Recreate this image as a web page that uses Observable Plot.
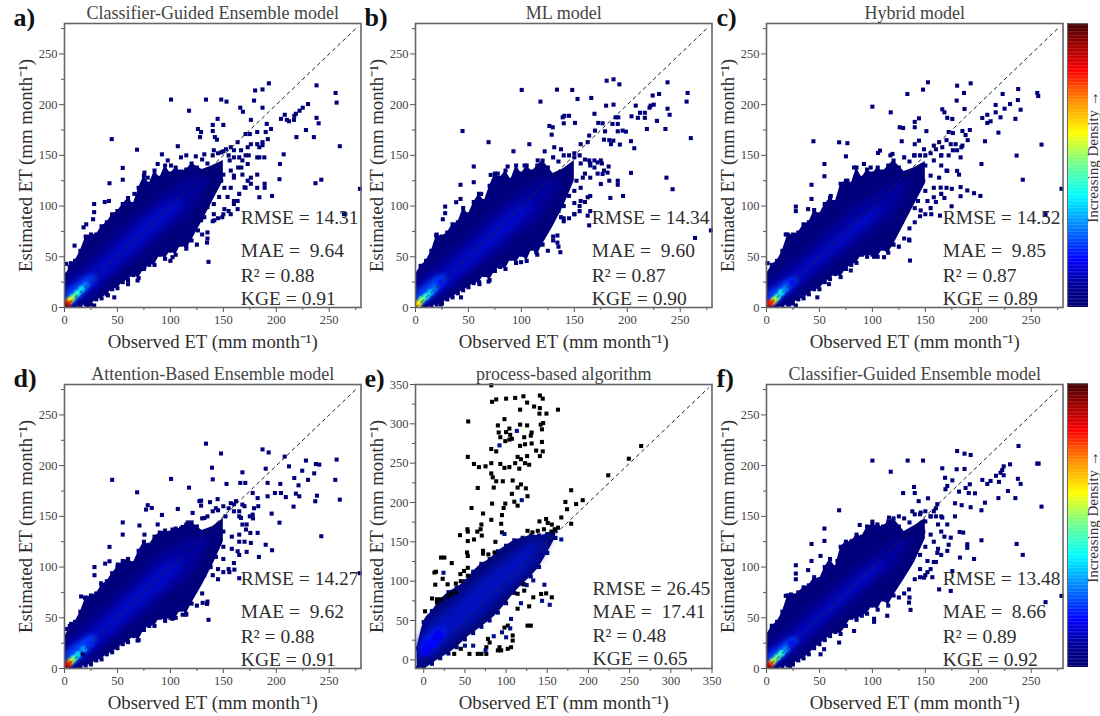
<!DOCTYPE html>
<html><head><meta charset="utf-8">
<script src="https://cdn.jsdelivr.net/npm/d3@7"></script>
<script src="https://cdn.jsdelivr.net/npm/@observablehq/plot@0.6"></script>
<style>
html,body{margin:0;padding:0;background:#fff}
#page{position:relative;width:1100px;height:716px;overflow:hidden}
#page svg{position:absolute}
</style></head><body><div id="page"></div>
<script>
// ---------- text ----------
const panelLetters = ["a)","b)","c)","d)","e)","f)"];
const panelTitles = ["Classifier-Guided Ensemble model","ML model","Hybrid model","Attention-Based Ensemble model","process-based algorithm","Classifier-Guided Ensemble model"];
const xAxisLabel = "Observed ET (mm month⁻¹)";
const yAxisLabel = "Estimated ET (mm month⁻¹)";
const colorbarLabel = "Increasing Density →";
const statsA = ["RMSE = 14.31","MAE =  9.64","R² = 0.88","KGE = 0.91"];
const statsB = ["RMSE = 14.34","MAE =  9.60","R² = 0.87","KGE = 0.90"];
const statsC = ["RMSE = 14.52","MAE =  9.85","R² = 0.87","KGE = 0.89"];
const statsD = ["RMSE = 14.27","MAE =  9.62","R² = 0.88","KGE = 0.91"];
const statsE = ["RMSE = 26.45","MAE =  17.41","R² = 0.48","KGE = 0.65"];
const statsF = ["RMSE = 13.48","MAE =  8.66","R² = 0.89","KGE = 0.92"];

// ---------- ticks ----------
const ticksMajor = [0,50,100,150,200,250];
const ticksMinor = [25,75,125,175,225,275];
const ticksMajorE = [0,50,100,150,200,250,300,350];
const ticksMinorE = [25,75,125,175,225,275,325];

// ---------- density colour scale ----------
const densityStops = [0,.08,.165,.28,.39,.5,.61,.72,.83,.92,1];
const densityColors = ["#00006e","#00009e","#0000ff","#0080ff","#00ffff","#70ff90","#ffff00","#ff9000","#ff0000","#a00000","#3a0000"];

// ---------- tail of each cloud, where it thins out ----------
const tailX = [130,140,150];
const tailHiA = [136,140,145], tailLoA = [85,105,125];
const tailHiB = [132,137,145], tailLoB = [80,100,125];
const tailHiC = [134,138,144], tailLoC = [82,102,122];
const tailHiD = [136,140,148], tailLoD = [82,102,125];
const tailHiF = [135,141,148], tailLoF = [88,105,128];
const edgeXE = [-8,0,10,20,30,40,50,60,70,80,90,100,110,120,130,140,150,160];
const edgeHiE = [15,48,62,76,86,92,100,112,122,128,138,145,152,155,158,158,160,164];
const edgeLoE = [-10,-11,-5,2,8,16,26,34,42,50,60,72,85,96,106,118,136,155];

// ---------- outermost visible dots of each cloud ----------
const edgeX = [0,5,10,15,20,25,30,35,40,45,50,55,60,65,70,75,80,85,90,95,100,105,110,115,120,125,130,135,140,145,150,155,160,165];
const edgeHiA = [30,40,46,56,70,72,72,80,84,92,95,102,108,102,118,130,122,135,128,140,132,138,134,136,142,138,146,142,150,152,154,150,155,148];
const edgeLoA = [0,0,0,1,3,3,8,9,13,18,19,25,27,32,29,38,42,42,52,48,56,52,62,58,66,62,72,68,85,88,92,95,105,112];
const edgeHiB = [33,41,46,56,72,70,74,82,84,98,92,104,112,105,120,132,128,135,126,140,132,140,134,140,145,138,148,144,150,150,152,150,146,142];
const edgeLoB = [0,0,0,1,3,4,8,10,14,17,20,24,25,32,27,36,40,38,48,44,52,46,58,52,62,56,66,60,88,88,92,95,104,110];
const edgeHiC = [33,42,46,56,72,72,74,82,84,96,92,102,108,104,122,125,122,138,128,136,132,138,134,140,145,138,148,144,150,150,150,152,156,150];
const edgeLoC = [0,0,0,1,3,4,8,9,13,18,18,25,28,33,30,38,42,44,52,50,52,50,58,54,62,60,68,66,84,90,92,98,104,112];
const edgeHiD = [30,42,46,56,70,72,74,82,86,94,100,106,108,104,116,125,122,130,134,136,134,138,138,142,144,140,148,150,155,156,160,158,162,155];
const edgeLoD = [0,0,0,1,3,4,8,9,14,16,20,24,26,32,28,38,42,42,50,47,50,50,58,54,64,62,74,66,92,88,95,98,104,112];
const edgeHiF = [33,42,46,56,72,72,75,80,82,90,88,100,108,100,120,125,125,132,130,140,142,140,140,145,148,140,148,144,152,152,155,150,158,150];
const edgeLoF = [0,0,0,1,3,4,8,10,14,20,24,28,32,36,34,42,50,48,52,54,62,58,68,62,72,70,74,70,88,90,92,98,105,112];

// ---------- inner density bands ----------
const band1X = [2,20,40,60,80,100,120,135];
const band1LoA = [0,8,24,42,60,78,95,125], band1HiA = [28,42,62,82,100,115,128,130];
const band1LoB = [0,8,24,40,56,74,92,120], band1HiB = [28,42,60,80,98,113,125,128];
const band1LoC = [0,9,25,42,58,76,94,120], band1HiC = [26,40,58,78,96,110,122,126];
const band1LoD = [0,8,24,41,58,76,94,122], band1HiD = [28,42,62,82,102,118,128,132];
const band1LoF = [0,10,27,46,64,82,100,125], band1HiF = [26,38,58,76,94,110,124,128];
const band2X = [2,20,40,60,80,100,112];
const band2LoA = [1,13,31,50,68,86,102], band2HiA = [20,32,50,70,90,104,108];
const band2LoB = [1,13,30,47,65,84,100], band2HiB = [20,31,48,67,87,102,106];
const band2LoC = [1,14,33,50,68,85,100], band2HiC = [18,29,46,64,82,96,102];
const band2LoD = [1,13,31,49,67,85,102], band2HiD = [20,32,50,70,90,106,110];
const band2LoF = [1,15,34,53,72,90,104], band2HiF = [18,29,46,64,84,100,108];
const band3X = [1,10,20,30];
const band3LoA = [0,5,15,27], band3HiA = [16,22,30,32];
const band3LoB = [0,5,15,27], band3HiB = [16,22,30,32];
const band3LoC = [0,5,15,26], band3HiC = [14,20,27,30];
const band3LoD = [0,5,15,27], band3HiD = [16,23,30,33];
const band3LoF = [0,6,16,27], band3HiF = [14,20,28,31];
const band1XE = [-6,5,20,40,60,80,100,120,140,152];
const band1LoE = [-3,0,10,28,45,62,85,104,126,146], band1HiE = [18,46,60,78,98,116,132,146,154,156];
const band2XE = [-6,5,20,40,60,80,100,120,135];
const band2LoE = [2,5,18,35,52,72,92,112,132], band2HiE = [16,38,52,70,88,106,122,138,150];
const band3XE = [-3,5,15,28];
const band3LoE = [8,8,16,28], band3HiE = [20,32,38,42];

// ---------- hot cores near the origin: x, y, density level ----------
const coreA = [[24,25,.2],[20,22,.27],[16,18,.36],[12,14,.42],[8,10,.5],[5,7,.62],[3,4,.78],[1.5,2,.9]];
const coreB = [[24,25,.18],[18,19,.26],[14,15,.34],[10,11,.42],[6,8,.5],[3,4,.6],[1.5,2,.64]];
const coreC = [[24,25,.18],[18,19,.27],[14,15,.38],[10,10,.46],[7,7,.56],[5,5,.72],[2.5,4,.82]];
const coreD = [[24,25,.2],[18,19,.3],[13,14,.36],[9,10,.46],[6,7,.58],[4,5,.76],[2,3,.86]];
const coreF = [[24,25,.18],[18,19,.28],[14,15,.42],[10,11,.48],[6,7,.56],[3.5,4,.76],[1.5,2,.9]];
const coreE = [[12,22,.17],[6,18,.17],[4,12,.15],[18,30,.15]];

// ---------- individually visible points ----------
const pointsA = [[193,221],[238,219],[180,214],[187,215],[100.6,205],[133.6,205],[148,205],[153,203],[179,204],[256,211.5],[257,202],[166,197],[168.5,193],[187,197],[117.6,194],[144.6,186],[176,185],[150,180],[140,180],[140,174],[126,176],[129,173],[128,168],[142,168],[144,165.5],[44.6,166],[68.5,155.6],[107,159],[92,151],[260,159],[207,151],[203.5,141.5],[203,126.5],[237,122.5],[242.5,126],[279,117],[196,110],[184,108.7],[264,92],[42.5,122.5],[55,137.6],[55,126],[136,45],[228,175],[235.5,168],[219,168],[238,187],[240,181.6],[230,200.6],[225,197],[222,194],[218.5,191],[217,189],[208,190],[204.4,186],[210,185],[212,183.6],[216.7,185],[191,181],[190,173],[182,173],[175,171],[171,171],[187,163],[176,161],[182,161],[187,160],[195,176],[192,166],[182,148],[189,122],[189,118],[182,131],[182,118],[176,122],[171,118],[28,102],[28,94],[42,105],[38,104],[27,87],[18,79],[20.5,82],[9.5,61],[1.6,43],[6,43.7],[2,32.5],[66,112],[75.5,133],[78.6,128],[88,141.5],[97.5,145],[100.6,140],[110,148],[115,150],[124,149],[132,151],[141,155],[148,153],[157,158],[163.5,163],[152.5,156],[166.7,155],[171,150],[173,141.5],[176,128],[170,118.5],[163.5,105],[163.5,97],[157,92],[149,89],[141.5,86],[135,74],[134.6,64],[126,76],[115,61],[102,49.6],[100,46],[75.5,40],[69,26.6],[60,23],[47,10],[41,12],[28,2],[22,2],[35,17],[160,130],[148,125],[173,158],[184,158],[184,148],[188.7,148],[146,138],[156,145],[160,148],[150,131],[157,135],[164,138],[141,125],[151,118],[157,118],[160,128],[167,138],[146,109],[154,109],[160,102],[141,102],[151,97],[135,99],[141,92],[132,89],[129,86],[168,145],[174,150],[168,131],[173,125]];
const pointsB = [[187,225],[180.5,223.6],[192.5,220],[238,222],[100.3,214.5],[133.6,214.8],[148,214.5],[153,205.6],[118,203],[166,206.6],[257,211.5],[256,203],[187,200],[180,199],[224,209],[230,210.5],[208,199],[222,199],[225,200],[221,197],[238,196],[240,190],[236,176],[218.5,176],[228,184],[212,192],[216.6,192],[204,188.5],[210,187],[216.6,187],[169,191],[189,187.5],[191.5,187.5],[140.6,189],[145,189],[139,187.5],[150.6,182],[140,181.6],[126.4,179],[129.6,177.7],[128.6,170.4],[44.4,174],[69,163],[107.5,161],[92.5,154],[122,154],[260,167],[206.6,157],[203.5,164],[203.5,132.7],[237,128],[242.8,116.6],[196,110],[184,108],[264,68.6],[279,76],[42.5,121],[55,139],[55,123.5],[136.8,54.5],[134,64],[134,71],[130,70],[164,81],[162.6,90.6],[165,95],[28,99.5],[28,93],[25.8,87],[5,41],[1.6,33],[19.5,71],[22.6,68.6],[38.4,103.8],[42.5,107],[62,112],[71,130.7],[77.7,132],[87,139],[103,140],[109,132.7],[115.4,145],[131,158],[137.4,156],[156,161],[162.6,163],[164,169.5],[169.5,174.4],[172.6,182],[176.7,181.6],[179,173.7],[186,181],[191,181],[191,173.7],[195.6,174.4],[198.7,173.4],[183,165],[178,165.5],[186.8,164.5],[184.6,161],[193,160.6],[175,145],[169,145],[169,138],[182.4,139],[181.4,133],[183,125],[191,125],[191,121],[176.7,131.7],[175,121.8],[162.6,108.7],[156,105],[150,92],[137.4,89],[103,53],[99.7,44.7],[114,54.5],[69,25.6],[60.4,23],[43,10],[24,3],[150,148],[156,142],[164,145],[172,143],[176,142],[178,135],[146,132],[152,125],[158,128],[165,128],[150,115],[156,118],[145,110],[150,103],[140,100],[135,95],[128,90],[155,100],[140,85],[172,132],[165,140],[160,132],[143,122]];
const pointsC = [[152.5,222],[192.8,221],[180,218.7],[237.7,215.4],[147.8,214.8],[133,210.5],[186.5,211.5],[255.7,211.5],[256.6,208.5],[100,198],[179.6,204],[237.4,204.5],[223,210.5],[117.3,192.4],[187,195.7],[240,195],[216.4,199.7],[230,200.6],[224.8,196],[166,195.4],[168,192.4],[216.4,192.4],[203.8,186.9],[208.5,190],[221,187.5],[235,186],[219,172.4],[208.5,182],[211.6,183.6],[170.7,187],[175.5,185.9],[144,186.5],[140,183],[140,177.7],[125.8,177.7],[129,177],[151,173.9],[44.3,163.9],[68.6,162.9],[76.4,162],[75,149],[127.7,163.9],[144,164.5],[140,161],[105.3,152.4],[107.2,154.7],[119,151.4],[259.7,160.6],[236.2,149.8],[206.3,163.9],[203,141.5],[242,126],[278.6,117],[263.5,92],[202,110],[196,112.7],[189.6,115.4],[183.3,118.7],[183.3,109.7],[174.8,99.8],[163.8,90.6],[155.6,92],[135.5,46.3],[134.6,67],[111,49.6],[101.6,50],[114,56.8],[42.5,121],[54.7,129.4],[54.7,141.5],[27.7,99.5],[27.7,95],[39.3,97],[42.5,107],[18.2,72],[1,43.7],[8.8,43],[1.6,32.5],[60.7,110],[76.4,125],[82.7,138],[92,141.5],[98.4,138],[117,150],[139.3,150],[148.7,156],[158,159.6],[163,163],[174,161],[178.6,161],[185,159.6],[183.3,148],[180,134.7],[181.8,131],[170.7,134.7],[164.5,118.2],[158,108.7],[145.6,95.7],[79.6,36.5],[59,23],[48,10],[27.7,2],[21.4,3],[192,175],[188,170],[185,174],[176,172],[172,173],[170,165],[166,158],[190,165],[184,158],[150,140],[158,145],[165,150],[172,150],[170,135],[163,128],[155,130],[148,125],[150,115],[158,118],[170,118],[175,117],[168,108],[152,105],[143,105],[140,98],[132,95],[128,85],[135,78],[176,155],[180,155],[165,140]];
const pointsD = [[133.6,221.7],[147.8,212],[187,216],[192.8,213],[207.9,208.9],[257,206],[228,205],[212,199.3],[190,197],[168,193.4],[224.5,195],[139.3,198],[237.4,201.6],[240.6,201],[235.8,192.4],[217,187.8],[230,186],[255.7,186],[221,180.6],[203.8,182],[45,186],[100.6,186.9],[140,186.5],[153,182],[117.6,178.3],[166,183],[170.7,183],[191.8,183],[68.6,173.7],[198.7,173],[204.4,173],[209,169],[218.5,172.4],[221.7,169.8],[238.4,170.4],[236.8,164.9],[260,166.5],[216.3,159.6],[78.6,161],[77,156.7],[82.4,158.3],[92,151.4],[107,157.3],[121,153.4],[127.4,165],[129,160.6],[129,165.5],[137.4,164],[144.6,167],[195.6,152.7],[203,143.8],[242.5,130.4],[190,122],[196,116.6],[183.6,110],[279,94],[42.5,119.9],[55,144],[55,132],[28.3,100],[28.3,92],[38.4,103.4],[42.5,105.7],[1.6,39],[6.3,44],[2,32],[136,48],[134.6,63.7],[130.5,64.7],[102,49],[111.6,53],[114.8,53],[160.4,97.5],[155.7,95],[165,89],[69,27.6],[17.3,13.8],[15.7,71],[19.5,69.6],[34.6,84],[50.3,102.5],[58,104],[70.8,141],[75.5,132],[88,142],[102,137],[111.6,139.6],[116.4,144],[132,148.4],[143,158],[157,163],[162,165],[168,161.6],[177.7,173],[182.4,168],[191.8,169.8],[179,158],[177.7,151.7],[166.7,148.4],[175.5,133.7],[182.4,133.7],[176,123.8],[163.5,115.6],[168,141.9],[171.4,137],[152,150],[160,155],[165,150],[170,160],[175,150],[150,135],[158,130],[165,132],[172,142],[150,120],[158,118],[165,125],[150,108],[143,110],[138,100],[145,98],[132,92],[125,85],[170,125],[172,115],[178,148],[183,160]];
const pointsF = [[238,219.4],[180,214.4],[187,211.8],[192.8,210.5],[100,205],[133.3,205],[147.8,205],[255.7,202],[257,202],[166,197.4],[179.6,196.4],[187,196.7],[117.3,194],[230,201.3],[224,199.3],[222.6,195.7],[221,193],[224,190.5],[216.7,190],[237.4,187],[240,182],[203.8,185.9],[211.6,184.9],[208.5,182],[219.5,184],[228,175],[235,168],[219,168],[139.3,179],[140,173],[129,173],[143.7,165],[152.5,167.8],[168.6,188],[175.5,185.5],[170.7,180],[169,176.7],[192,181.6],[191,173],[196.9,172.7],[181.8,174.4],[188,178],[68.6,156],[259.7,159.6],[206.3,163.5],[203,156],[192.8,159],[184.3,161],[178,162.9],[203,126.4],[236.2,122.8],[242,112],[189.6,122.5],[189.6,119],[182.7,109.4],[196,108],[175.5,96],[263.5,65.4],[278.6,71.6],[136,57.8],[134.6,65],[101.6,49],[101.6,46],[114,52],[42.5,122.8],[54.7,125.8],[54.7,138],[27.7,101.8],[27.7,93.6],[39.3,97],[42.5,106],[5.7,42],[22.3,2.6],[18.2,71.6],[23,73],[27.7,88],[51,111],[67,106],[75,124],[81,125.8],[88,141.5],[100,144.8],[104.7,142],[115.7,148.8],[125,150],[137.7,155],[145.6,153.7],[161.3,162],[158,155],[166,148.8],[170.7,142],[182.4,134.6],[185.8,134],[174,129],[170.7,116],[161.3,114],[152,106],[148.7,89.6],[156.6,90],[163,78],[174,76.5],[134.6,78],[82.7,37],[68.6,25.6],[54.4,19],[51,14],[150,145],[155,150],[160,150],[162,142],[165,135],[155,132],[148,135],[150,120],[158,125],[140,120],[145,112],[158,105],[135,105],[130,100],[125,92],[120,85],[168,130],[172,122],[178,150],[162,118],[145,98],[152,95]];
const pointsEBlack = [[82,349],[83,328],[88,331],[100,332],[111,333],[121,335],[125.5,327],[134,322],[141,336],[144.5,332],[141,320],[163,318],[149,313],[140.5,313],[117,318],[54,303],[98,306],[90,298],[117,299],[125.5,298],[145,301],[142,299],[143.5,293],[104,294],[100,289.5],[91,289],[93,283],[105,286],[107,281],[122,283],[131,289],[130,285],[99,278],[104,280],[131,275],[117,272],[123,274],[82,268],[88,265],[136.5,266],[144.5,265],[143.5,277],[141,259],[53.5,258],[61,249],[67,245],[75,246],[82,250],[93,249],[98,244],[104,245],[111,250],[116,243],[123,250],[128,248],[125.5,259],[114,258],[118,255],[82,237],[83.8,232],[88,227],[96,227],[85,219],[65.6,218.5],[108,228],[118,223],[114,219],[124,218],[126,208],[107,211],[110,201],[114,196],[99,198.6],[97,193],[83,198.6],[58,193],[72,186],[82,178],[95,184],[94,173],[70,172],[69,166],[53,166],[53.5,163],[44,158.5],[65,163],[70.5,158],[53.5,151],[61,153],[95,162],[87,150],[25,130],[21,130],[34,123],[15,112],[13,111],[23,103],[14,95.5],[29,96],[39,97],[45,100],[53.5,117],[49,113],[53.5,107],[44.5,109],[52.6,136.5],[53.5,132],[72,138.6],[72,135],[78.5,134],[86,136.5],[10,78],[16,77],[21,77],[16,73],[29,80.7],[33,84],[39,86],[1.6,61.7],[179,215.6],[172,200.7],[193,203],[185,198],[174,191.5],[179,173],[167,181],[224,234.6],[249,255.7],[264,271.8],[155.5,172],[148.6,179],[150.6,174],[140.5,176],[163,168],[159,166],[155,163],[146,166],[138.5,164],[126,164],[132,162],[155.5,79.5],[142.5,83.7],[148.6,84.5],[133,79.5],[128,68],[130,43.5],[126,43.5],[108,31],[108,24.5],[106,16],[102,14],[92,16],[94,12],[90,12],[78,26.6],[80,22],[76,16],[70,7.6],[76,7.6],[65.6,7.6],[55.5,7.6],[45,14],[37,7.6],[98,41],[102,43.5],[114,65],[122,88],[122,96],[114,84]];
const pointsEBlue = [[113,291],[92,272.6],[119,203],[24,110.7],[98,160],[143.7,75],[146.5,95.5],[153,70],[133,101],[100,28.7],[106,52],[146.5,139],[167,153],[125,95],[118,72],[105,40],[95,35],[85,30],[60,18],[50,18],[75,12]];

// ---------- one panel ----------
const layerFill = ["#00007c","#00009c","#0008c4","#0040f0"];
const layerFillE = ["#00087c","#000c9c","#0010bc","#0020e8"];

const blur = px => (index, scales, values, dims, ctx, next) => {
  const g = next(index, scales, values, dims, ctx);
  g.style.filter = `blur(${px}px)`;
  return g;
};
const toBand = (x, lo, hi) => x.map((v, i) => ({x: v, lo: lo[i], hi: hi[i]}));
const pair = ([x, y, l]) => ({x, y, l});
const outline = b => b.flatMap(d => [{x:d.x, y:d.lo}, {x:d.x, y:d.hi}]);
const body = (edge, tail) => edge.filter(d => d.x <= 120).concat(tail);

function panel(o) {
  const isE = !!o.extended;
  const fills = isE ? layerFillE : layerFill;
  const bandMark = (b, fill, px, curve = "monotone-x") => Plot.areaY(b, {
    x: "x", y1: "lo", y2: "hi", fill, curve, clip: "frame",
    render: px ? blur(px) : undefined
  });
  const major = isE ? ticksMajorE : ticksMajor;
  const minor = isE ? ticksMinorE : ticksMinor;
  const tone = "#444";
  const stats = isE ? [91,61,31,1] : [88,55.5,31,9];
  const marks = [
    bandMark(o.solid, fills[0], 0.5, isE ? "monotone-x" : "linear"),
    Plot.dot(outline(o.edge), {x:"x", y:"y", symbol:"square", r:2.3, fill:fills[0], clip:"frame"}),
    bandMark(o.b1, fills[1], 3),
    bandMark(o.b2, fills[2], 3),
    bandMark(o.b3, fills[3], 2.5),
    Plot.dot(o.core.map(pair), {x:"x", y:"y", fill:"l", r:o.coreR || 3.4, clip:"frame", render: blur(1.1)}),
    Plot.dot(o.points.map(pair), {x:"x", y:"y", symbol:"square", r:2.3, fill:isE ? "#000" : "#00007c"})
  ];
  if (o.pointsBlue) marks.push(Plot.dot(o.pointsBlue.map(pair), {x:"x", y:"y", symbol:"square", r:2.3, fill:"#00108c"}));
  marks.push(
    Plot.link([0], {x1:0, y1:0, x2:isE ? 346 : 277, y2:isE ? 346 : 277, stroke:"#222", strokeWidth:1, strokeDasharray:"4,3"}),
    Plot.axisX({ticks:major, tickSize:5, tickPadding:3, label:null, fontSize:12.5, color:tone, stroke:"#555"}),
    Plot.axisX({ticks:minor, tickSize:3, tickFormat:()=>"", label:null, stroke:"#555"}),
    Plot.axisY({ticks:major, tickSize:5, tickPadding:2, label:null, fontSize:12.5, color:tone, stroke:"#555"}),
    Plot.axisY({ticks:minor, tickSize:3, tickFormat:()=>"", label:null, stroke:"#555"}),
    Plot.frame({stroke:"#666", strokeWidth:1.6}),
    Plot.text(o.stats, {x:o.statX, y:(d,i)=>stats[i], text:d=>d, textAnchor:"start", fontSize:19.5, fill:"#2e2e2e"}),
    Plot.text([o.title], {frameAnchor:"top", dy:-17, text:d=>d, fontSize:18, fill:"#444"}),
    Plot.text([o.letter], {frameAnchor:"top-left", dx:o.letterDx, dy:-16, text:d=>d, fontSize:26, fontWeight:"bold", fill:"#111"}),
    Plot.text([xAxisLabel], {frameAnchor:"bottom", dy:40, text:d=>d, fontSize:18.8, fill:"#2e2e2e"}),
    Plot.text([yAxisLabel], {frameAnchor:"left", textAnchor:"middle", dx:-39, rotate:-90, text:d=>d, fontSize:18.8, fill:"#2e2e2e"})
  );
  const svg = Plot.plot({
    width: 62 + o.w + 12, height: 26 + o.h + 49,
    marginLeft: 62, marginRight: 12, marginTop: 26, marginBottom: 49,
    style: {background:"none", fontFamily:"'Liberation Serif', serif", overflow:"visible"},
    x: {domain:o.xDom, axis:null},
    y: {domain:o.yDom, axis:null},
    color: {type:"linear", domain:densityStops, range:densityColors, clamp:true},
    marks
  });
  svg.style.left = (o.left - 62) + "px";
  svg.style.top = (o.top - 26) + "px";
  document.getElementById("page").appendChild(svg);
}

function colorbar(top) {
  const levels = d3.range(0, 1, 0.005);
  const svg = Plot.plot({
    width: 21, height: 284, margin: 0,
    style: {background:"none"},
    x: {domain:[0,1], axis:null},
    y: {domain:[0,1], axis:null},
    color: {type:"linear", domain:densityStops, range:densityColors},
    marks: [
      Plot.rect(levels, {x1:0, x2:1, y1:d=>d, y2:d=>d+0.006, fill:d=>d}),
      Plot.frame({stroke:"#666", strokeWidth:1})
    ]
  });
  svg.style.left = "1066.5px";
  svg.style.top = top + "px";
  document.getElementById("page").appendChild(svg);

  const label = Plot.plot({
    width: 24, height: 284, margin: 0,
    style: {background:"none", fontFamily:"'Liberation Serif', serif", overflow:"visible"},
    x:{axis:null}, y:{axis:null},
    marks: [Plot.text([colorbarLabel], {frameAnchor:"middle", rotate:-90, text:d=>d, fontSize:15, fill:"#333", dy:-8.5})]
  });
  label.style.left = "1081px";
  label.style.top = top + "px";
  document.getElementById("page").appendChild(label);
}

const common = {w:296.5, h:284, xDom:[0,280], yDom:[0,280], statX:166.5};
const edgeBandA = toBand(edgeX,edgeLoA,edgeHiA), edgeBandB = toBand(edgeX,edgeLoB,edgeHiB), edgeBandC = toBand(edgeX,edgeLoC,edgeHiC), edgeBandD = toBand(edgeX,edgeLoD,edgeHiD), edgeBandF = toBand(edgeX,edgeLoF,edgeHiF);
panel({...common, left:63.5, top:23, letter:panelLetters[0], title:panelTitles[0], letterDx:-51, stats:statsA,
  solid:body(edgeBandA,toBand(tailX,tailLoA,tailHiA)), edge:edgeBandA, b1:toBand(band1X,band1LoA,band1HiA), b2:toBand(band2X,band2LoA,band2HiA), b3:toBand(band3X,band3LoA,band3HiA), core:coreA, points:pointsA});
panel({...common, left:414.5, top:23, letter:panelLetters[1], title:panelTitles[1], letterDx:-51, stats:statsB,
  solid:body(edgeBandB,toBand(tailX,tailLoB,tailHiB)), edge:edgeBandB, b1:toBand(band1X,band1LoB,band1HiB), b2:toBand(band2X,band2LoB,band2HiB), b3:toBand(band3X,band3LoB,band3HiB), core:coreB, points:pointsB});
panel({...common, left:765.5, top:23, letter:panelLetters[2], title:panelTitles[2], letterDx:-50, stats:statsC,
  solid:body(edgeBandC,toBand(tailX,tailLoC,tailHiC)), edge:edgeBandC, b1:toBand(band1X,band1LoC,band1HiC), b2:toBand(band2X,band2LoC,band2HiC), b3:toBand(band3X,band3LoC,band3HiC), core:coreC, points:pointsC});
panel({...common, left:63.5, top:383.5, letter:panelLetters[3], title:panelTitles[3], letterDx:-51, stats:statsD,
  solid:body(edgeBandD,toBand(tailX,tailLoD,tailHiD)), edge:edgeBandD, b1:toBand(band1X,band1LoD,band1HiD), b2:toBand(band2X,band2LoD,band2HiD), b3:toBand(band3X,band3LoD,band3HiD), core:coreD, points:pointsD});
panel({...common, left:414.5, top:383.5, letter:panelLetters[4], title:panelTitles[4], letterDx:-51, stats:statsE, extended:true, coreR:6,
  xDom:[-10,350], yDom:[-11,350], statX:205,
  solid:toBand(edgeXE,edgeLoE,edgeHiE), edge:toBand(edgeXE,edgeLoE,edgeHiE), b1:toBand(band1XE,band1LoE,band1HiE), b2:toBand(band2XE,band2LoE,band2HiE), b3:toBand(band3XE,band3LoE,band3HiE), core:coreE, points:pointsEBlack, pointsBlue:pointsEBlue});
panel({...common, left:765.5, top:383.5, letter:panelLetters[5], title:panelTitles[5], letterDx:-50, stats:statsF,
  solid:body(edgeBandF,toBand(tailX,tailLoF,tailHiF)), edge:edgeBandF, b1:toBand(band1X,band1LoF,band1HiF), b2:toBand(band2X,band2LoF,band2HiF), b3:toBand(band3X,band3LoF,band3HiF), core:coreF, points:pointsF});
colorbar(23);
colorbar(383);
</script></body></html>
